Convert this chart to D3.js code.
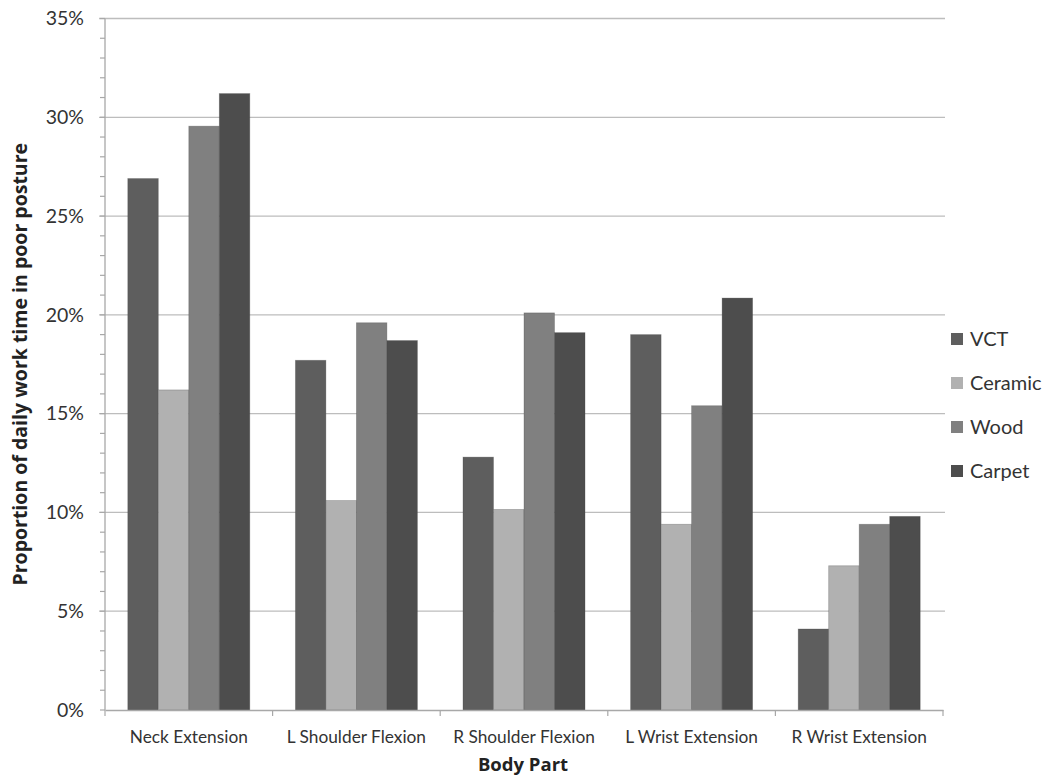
<!DOCTYPE html>
<html><head><meta charset="utf-8">
<script src="https://cdn.jsdelivr.net/npm/d3@7"></script>
<style>body{margin:0;background:#fff}svg{display:block}text{font-family:Lato,"Open Sans",sans-serif}</style>
</head><body>
<svg id="c" width="1057" height="783"></svg>
<script>
const categories = ["Neck Extension","L Shoulder Flexion","R Shoulder Flexion","L Wrist Extension","R Wrist Extension"];
const seriesNames = ["VCT","Ceramic","Wood","Carpet"];
const VCT     = [26.9, 17.7, 12.8, 19.0, 4.1];
const Ceramic = [16.2, 10.6, 10.15, 9.4, 7.3];
const Wood    = [29.55, 19.6, 20.1, 15.4, 9.4];
const Carpet  = [31.2, 18.7, 19.1, 20.85, 9.8];
const yTicks = [0,5,10,15,20,25,30,35];
const colors = ["#5e5e5e","#b1b1b1","#808080","#4d4d4d"];
const series = [VCT, Ceramic, Wood, Carpet];

const svg = d3.select("#c");
const L = 105, R = 943, T = 18.5, B = 710;
const x = d3.scaleBand().domain(categories).range([L,R]).paddingInner(0.272).paddingOuter(0.136);
const xi = d3.scaleBand().domain(seriesNames).range([0, x.bandwidth()]);
const y = d3.scaleLinear().domain([0,35]).range([B,T]);

// gridlines
svg.append("g").selectAll("line").data(yTicks.filter(d=>d>0)).join("line")
  .attr("x1",L-6).attr("x2",R+2).attr("y1",d=>y(d)).attr("y2",d=>y(d))
  .attr("stroke","#bdbdbd").attr("stroke-width",1.3);

// minor ticks
svg.append("g").selectAll("line").data(d3.range(0,36)).join("line")
  .attr("x1",L-5).attr("x2",L).attr("y1",d=>y(d)).attr("y2",d=>y(d))
  .attr("stroke","#a8a8a8").attr("stroke-width",1.2);

// bars
const g = svg.append("g");
series.forEach((vals,si)=>{
  g.selectAll(null).data(vals).join("rect")
    .attr("x",(d,i)=>x(categories[i])+xi(seriesNames[si]))
    .attr("width",xi.bandwidth())
    .attr("y",d=>y(d)).attr("height",d=>B-y(d))
    .attr("fill",colors[si]).attr("stroke","#454545").attr("stroke-opacity",0.35).attr("stroke-width",0.8);
});

// y axis line
svg.append("line").attr("x1",L).attr("x2",L).attr("y1",T).attr("y2",B).attr("stroke","#a8a8a8").attr("stroke-width",1.3);
// x axis
const xAxis = d3.axisBottom(x).tickSize(0).tickFormat(d=>d);
const xg = svg.append("g").attr("transform",`translate(0,${B})`).call(xAxis);
xg.select(".domain").attr("stroke","#a8a8a8").attr("stroke-width",1.3);
xg.selectAll(".tick text").attr("font-size",17.3).attr("fill","#333").attr("y",0).attr("dy","1.9em");
// category boundary ticks
const bounds = [L].concat(categories.map(c=>x(c)+x.bandwidth()+x.step()*x.paddingInner()/2));
svg.append("g").selectAll("line").data(bounds).join("line")
  .attr("x1",d=>d).attr("x2",d=>d).attr("y1",B).attr("y2",B+6)
  .attr("stroke","#a8a8a8").attr("stroke-width",1.2);

// y labels
const yAxis = d3.axisLeft(y).tickValues(yTicks).tickSize(0).tickFormat(d=>d+"%");
const yg = svg.append("g").attr("transform",`translate(${L-21},0)`).call(yAxis);
yg.select(".domain").remove();
yg.selectAll(".tick text").attr("font-size",19.5).attr("fill","#333").attr("x",0);

// axis titles
svg.append("text").attr("x",(L+R)/2-1).attr("y",771).attr("text-anchor","middle")
  .style("font-family","'Open Sans',sans-serif")
  .attr("font-size",18.5).attr("font-weight","bold").attr("fill","#222").text("Body Part");
svg.append("text").attr("transform",`translate(27,${(T+B)/2}) rotate(-90)`).attr("text-anchor","middle")
  .style("font-family","'Open Sans',sans-serif")
  .attr("font-size",19.5).attr("font-weight","bold").attr("fill","#222").text("Proportion of daily work time in poor posture");

// legend
const lg = svg.append("g").selectAll("g").data(seriesNames).join("g")
  .attr("transform",(d,i)=>`translate(951,${339+i*44})`);
lg.append("rect").attr("x",0).attr("y",-6).attr("width",12).attr("height",12).attr("fill",(d,i)=>colors[i]);
lg.append("text").attr("x",19).attr("y",0).attr("dy","0.36em").attr("font-size",20).attr("fill","#333").text(d=>d);
</script>
</body></html>
